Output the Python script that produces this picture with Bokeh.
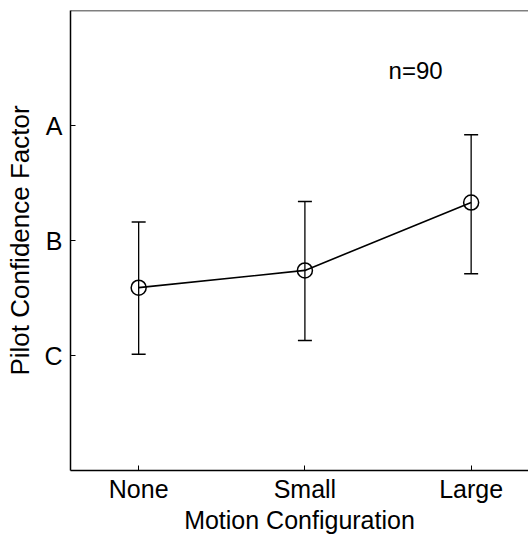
from bokeh.plotting import figure
from bokeh.models import Range1d, FixedTicker, ColumnDataSource, Whisker, TeeHead, Label, Span
from bokeh.embed import file_html
from bokeh.resources import INLINE

categories = ["None", "Small", "Large"]
x_pos = [1, 2, 3]
means = [1.59, 1.74, 2.33]
upper = [2.16, 2.34, 2.92]
lower = [1.01, 1.13, 1.71]
y_ticks = [1, 2, 3]
y_tick_labels = ["C", "B", "A"]
note = "n=90"

FONT = "Liberation Sans"

p = figure(width=528, height=537, output_backend="svg", toolbar_location=None,
           x_range=Range1d(0.59, 3.345), y_range=Range1d(0, 4),
           min_border_left=70, min_border_right=0, min_border_top=10, min_border_bottom=67)
p.outline_line_color = None
p.grid.visible = False
p.background_fill_color = "white"
p.border_fill_color = "white"

for ax in (p.xaxis[0], p.yaxis[0]):
    ax.axis_line_color = "black"
    ax.axis_line_width = 1.5
    ax.major_tick_in = 5
    ax.major_tick_out = 0
    ax.major_tick_line_width = 1
    ax.minor_tick_line_color = None
    ax.major_label_text_font = FONT
    ax.major_label_text_font_size = "25px"
    ax.major_label_text_color = "black"
    ax.axis_label_text_font = FONT
    ax.axis_label_text_font_style = "normal"
    ax.axis_label_text_color = "black"

p.xaxis.ticker = FixedTicker(ticks=x_pos)
p.xaxis.major_label_overrides = {x: c for x, c in zip(x_pos, categories)}
p.xaxis.axis_label = "Motion Configuration"
p.xaxis.axis_label_text_font_size = "25px"
p.xaxis.major_label_standoff = 4
p.xaxis.axis_label_standoff = 0

p.yaxis.ticker = FixedTicker(ticks=y_ticks)
p.yaxis.major_label_overrides = {y: t for y, t in zip(y_ticks, y_tick_labels)}
p.yaxis.axis_label = "Pilot Confidence Factor"
p.yaxis.axis_label_text_font_size = "26px"
p.yaxis.major_label_standoff = 8
p.yaxis.axis_label_standoff = 6

p.add_layout(Span(location=4, dimension="width", line_color="black", line_width=1.5))

src = ColumnDataSource(dict(x=x_pos, y=means, upper=upper, lower=lower))
w = Whisker(base="x", upper="upper", lower="lower", source=src,
            line_color="black", line_width=1.3,
            upper_head=TeeHead(size=14, line_color="black", line_width=1.5),
            lower_head=TeeHead(size=14, line_color="black", line_width=1.5))
p.add_layout(w)

p.line("x", "y", source=src, line_color="black", line_width=1.6)
p.scatter("x", "y", source=src, size=15, fill_color=None, line_color="black", line_width=1.5)

p.add_layout(Label(x=2.666, y=3.476, text=note, text_font=FONT, text_font_size="24px",
                   text_color="black", text_align="center", text_baseline="middle"))

open("out.html", "w").write(file_html(p, INLINE))
